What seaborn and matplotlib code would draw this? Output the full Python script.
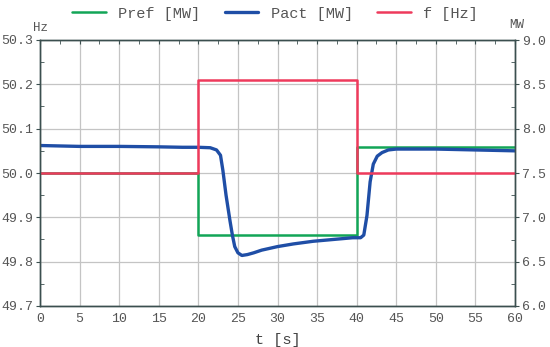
import numpy as np
import pandas as pd
import seaborn as sns
import matplotlib
matplotlib.use('Agg')
from matplotlib import pyplot as plt
from matplotlib.ticker import MultipleLocator, FormatStrFormatter

# f [Hz]
t_f = [0, 20, 20, 40, 40, 60]
f_hz = [50.0, 50.0, 50.21, 50.21, 50.0, 50.0]

# Pref [MW]
t_ref = [0, 20, 20, 40, 40, 60]
p_ref = [7.5, 7.5, 6.8, 6.8, 7.79, 7.79]

# Pact [MW]
t_act = [0, 5, 10, 15, 18, 20, 21.5, 22.3, 22.8, 23.1, 23.5, 24.0, 24.3, 24.6,
         25.0, 25.5, 26.2, 27, 28, 30, 32, 34.5, 37, 39.5, 40.5, 40.9, 41.3,
         41.7, 42.1, 42.6, 43.2, 44, 45, 50, 55, 60]
p_act = [7.81, 7.80, 7.80, 7.795, 7.79, 7.79, 7.785, 7.76, 7.70, 7.53, 7.25, 6.96,
         6.80, 6.67, 6.60, 6.57, 6.58, 6.60, 6.63, 6.67, 6.70, 6.73, 6.75, 6.77,
         6.77, 6.80, 7.02, 7.40, 7.60, 7.69, 7.73, 7.76, 7.77, 7.77, 7.76, 7.75]

sns.set_style('white')
plt.rcParams['font.family'] = ['Liberation Mono', 'DejaVu Sans']

green = '#12a557'
blue = '#1f4ea6'
red = '#ee3a5c'
spine = '#3b4f4f'

fig = plt.figure(figsize=(5.5, 3.47), dpi=100)
# MW axis is the base one (ticks moved right), Hz axis on top (ticks left)
ax = fig.add_axes([40/550, 41/347, 475/550, 266/347])
ax2 = ax.twinx()

sns.lineplot(x=t_ref, y=p_ref, ax=ax, color=green, lw=1.8, sort=False,
             estimator=None, label='Pref [MW]', legend=False)
sns.lineplot(x=t_act, y=p_act, ax=ax, color=blue, lw=2.4, sort=False,
             estimator=None, label='Pact [MW]', legend=False)
sns.lineplot(x=t_f, y=f_hz, ax=ax2, color=red, lw=1.8, sort=False,
             estimator=None, label='f [Hz]', legend=False)

ax.set_xlim(0, 60)
ax.set_ylim(6.0, 9.0)
ax2.set_ylim(49.7, 50.3)

ax.yaxis.tick_right()
ax2.yaxis.tick_left()

ax.xaxis.set_major_locator(MultipleLocator(5))
ax.xaxis.set_minor_locator(MultipleLocator(2.5))
ax.yaxis.set_major_locator(MultipleLocator(0.5))
ax.yaxis.set_minor_locator(MultipleLocator(0.25))
ax.yaxis.set_major_formatter(FormatStrFormatter('%.1f'))
ax2.yaxis.set_major_locator(MultipleLocator(0.1))
ax2.yaxis.set_minor_locator(MultipleLocator(0.05))
ax2.yaxis.set_major_formatter(FormatStrFormatter('%.1f'))

ax.grid(True, which='major', color='#c4c4c4', lw=0.9)

for a in (ax, ax2):
    for s in a.spines.values():
        s.set_color(spine)
        s.set_linewidth(1.0)
    a.tick_params(which='major', length=3, direction='out', color=spine,
                  labelsize=9.5, labelcolor='#555555', pad=2)
    a.tick_params(which='minor', length=3, direction='in', color=spine)
ax.tick_params(axis='x', which='both', top=True, direction='in', pad=5)
ax.set_xlabel('t [s]', fontsize=11, color='#444444', labelpad=6)
ax.set_ylabel('')
ax2.set_ylabel('')

fig.text(40/550, 1 - 28/347, 'Hz', ha='center', va='center', fontsize=9, color='#555555')
fig.text(517/550, 1 - 25/347, 'MW', ha='center', va='center', fontsize=9, color='#555555')

handles = ax.get_lines()[:2] + ax2.get_lines()[:1]
fig.legend(handles, ['Pref [MW]', 'Pact [MW]', 'f [Hz]'], loc='upper center',
           bbox_to_anchor=(0.5, 1.02), ncol=3, frameon=False, fontsize=11,
           handlelength=2.2, columnspacing=1.6, labelcolor='#555555')

fig.savefig('out.png', dpi=100)
